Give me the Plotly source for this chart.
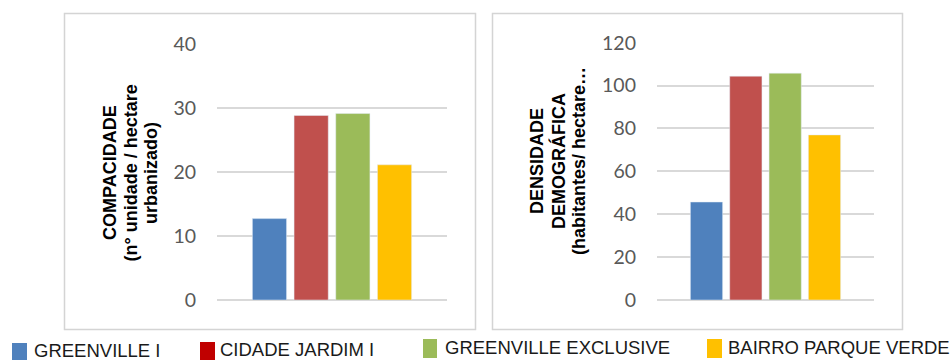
import plotly.graph_objects as go

W, H = 952, 360

# Data
series = ["GREENVILLE I", "CIDADE JARDIM I", "GREENVILLE EXCLUSIVE", "BAIRRO PARQUE VERDE"]
compacidade = [12.7, 28.8, 29.1, 21.1]
densidade = [45.7, 104.4, 105.8, 77.0]
compac_ticks = [0, 10, 20, 30, 40]
dens_ticks = [0, 20, 40, 60, 80, 100, 120]
compac_title = ["COMPACIDADE", "(n° unidade / hectare", "urbanizado)"]
dens_title = ["DENSIDADE", "DEMOGRÁFICA", "(habitantes/ hectare…"]

bar_colors = ["#4F81BD", "#C0504D", "#9BBB59", "#FFC000"]
legend_colors = ["#4F81BD", "#C00000", "#9BBB59", "#FFC000"]


def px(x):
    return x / W


def py(y):
    return 1 - y / H


fig = go.Figure()
for name, v, c in zip(series, compacidade, bar_colors):
    fig.add_trace(go.Bar(x=["c"], y=[v], name=name, marker_color=c,
                         xaxis="x", yaxis="y", showlegend=False))
for name, v, c in zip(series, densidade, bar_colors):
    fig.add_trace(go.Bar(x=["d"], y=[v], name=name, marker_color=c,
                         xaxis="x2", yaxis="y2", showlegend=False))

grid = "#d9d9d9"
tick_font = dict(family="Lato", size=19.5, color="#595959")
common_y = dict(showgrid=True, gridcolor=grid, gridwidth=1.5, zeroline=True,
                zerolinecolor=grid, zerolinewidth=1.5, showline=False,
                tickfont=tick_font, ticklabelstandoff=20, fixedrange=True,
                automargin=False)
common_x = dict(showticklabels=False, showgrid=False, zeroline=False,
                showline=False, fixedrange=True, automargin=False)

fig.update_layout(
    width=W, height=H,
    margin=dict(l=0, r=0, t=0, b=0, autoexpand=False),
    paper_bgcolor="white", plot_bgcolor="white",
    barmode="group", bargap=0.275, bargroupgap=0.18,
    xaxis=dict(domain=[px(217), px(447)], anchor="y", **common_x),
    yaxis=dict(domain=[py(300), py(43.7)], range=[0, 40], tickvals=compac_ticks,
               anchor="x", **common_y),
    xaxis2=dict(domain=[px(657), px(874)], anchor="y2", **common_x),
    yaxis2=dict(domain=[py(300), py(42.7)], range=[0, 120], tickvals=dens_ticks,
                anchor="x2", **common_y),
)

# Panel frames
for x0, x1 in [(64.5, 475.5), (492.5, 902.5)]:
    fig.add_shape(type="rect", xref="paper", yref="paper",
                  x0=px(x0), x1=px(x1), y0=py(329.5), y1=py(13.5),
                  line=dict(color="#d4d4d4", width=1.5), fillcolor="rgba(0,0,0,0)",
                  layer="below")

# Rotated axis titles, one annotation per line
title_font = dict(family="Liberation Sans", size=18, color="black")
for lines, xs, yc in [(compac_title, [110, 130.5, 151], 173),
                      (dens_title, [537, 558, 579], 161)]:
    for text, xc in zip(lines, xs):
        fig.add_annotation(text=f"<b>{text}</b>", xref="paper", yref="paper",
                           x=px(xc), y=py(yc), xanchor="center", yanchor="middle",
                           textangle=-90, showarrow=False, font=title_font)

# Legend row
leg_font = dict(family="Liberation Sans", size=18.5, color="#1a1a1a")
sq = [(12, 343, 27, 361), (200, 342, 215, 361), (423, 339, 437, 358), (707, 339, 722, 358)]
lab = [(34, 350.5), (220, 349.5), (445, 347), (728, 347)]
for name, c, (x0, y0, x1, y1), (lx, ly) in zip(series, legend_colors, sq, lab):
    fig.add_shape(type="rect", xref="paper", yref="paper",
                  x0=px(x0), x1=px(x1), y0=py(y1), y1=py(y0),
                  line=dict(width=0), fillcolor=c)
    fig.add_annotation(text=name, xref="paper", yref="paper", x=px(lx), y=py(ly),
                       xanchor="left", yanchor="middle", showarrow=False,
                       font=leg_font, xshift=-2)

fig.write_html("out.html")
